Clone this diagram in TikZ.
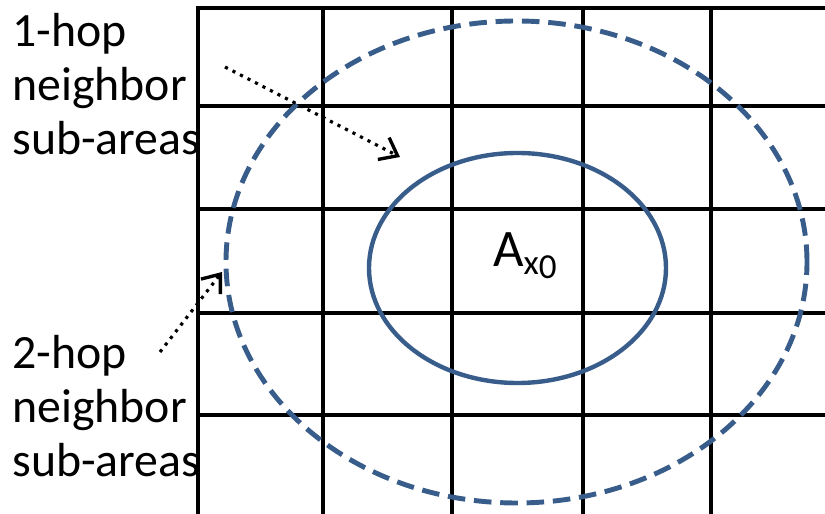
\documentclass[tikz,border=0pt]{standalone}
\usepackage{fontspec}
\setmainfont{Carlito}
\definecolor{areablue}{RGB}{56,93,138}
\usetikzlibrary{arrows.meta,positioning}
\tikzset{
  gridline/.style={line width=2.3pt, line cap=rect},
  hoparea/.style={areablue, line width=2.5pt},
  hoparrow/.style={line width=1.8pt, dash pattern=on 1.8pt off 3pt,
    -{Straight Barb[length=9pt,width=14pt,line width=1.9pt]}},
  hoplabel/.style={align=left, anchor=base west, inner sep=0pt,
    font=\fontsize{27.2pt}{31pt}\selectfont}
}
\begin{document}
\begin{tikzpicture}
  \useasboundingbox (0,0) rectangle (16.5,10.28);
  % Grille
  \foreach \x in {3.96,6.46,9.04,11.66,14.22}
    \draw[gridline] (\x,-0.3) -- (\x,10.12);
  \foreach \y in {1.98,4.02,6.10,8.16,10.12}
    \draw[gridline] (3.96,\y) -- (16.8,\y);
  % Zones
  \coordinate (ctr) at (10.33,5.04);
  \draw[hoparea, line width=2.8pt, dash pattern=on 10pt off 5pt] (ctr) ellipse [x radius=5.81cm, y radius=4.82cm];
  \draw[hoparea] (10.35,4.92) ellipse [x radius=2.97cm, y radius=2.3cm];
  \node[inner sep=0pt, anchor=base, font=\fontsize{30pt}{30pt}\selectfont] (ax0) at (10.5,4.94)
    {A{\fontsize{20pt}{20pt}\selectfont\raisebox{-0.45ex}{x}\raisebox{-0.7ex}{0}}};
  % Labels
  \node[hoplabel] (onehop) at (0.24,7.18) {1-hop\\neighbor\\sub-areas};
  \node[hoplabel] (twohop) at (0.24,0.74) {2-hop\\neighbor\\sub-areas};
  % Fleches
  \coordinate (s1) at (4.5,8.94);
  \coordinate (e1) at (8.0,7.14);
  \coordinate (s2) at (3.2,3.24);
  \coordinate (e2) at (4.44,4.84);
  \draw[hoparrow] (s1) -- (e1);
  \draw[hoparrow] (s2) -- (e2);
\end{tikzpicture}
\end{document}
